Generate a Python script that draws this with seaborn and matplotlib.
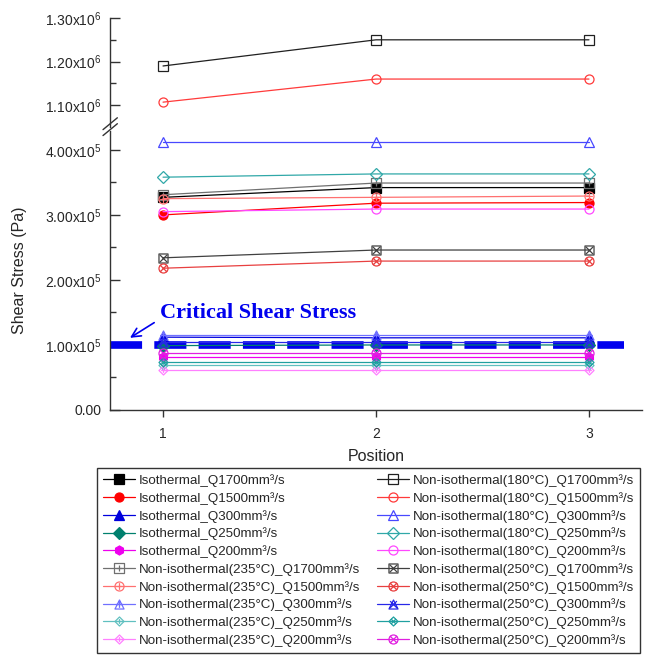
import numpy as np
import pandas as pd
import seaborn as sns
import matplotlib
matplotlib.use('Agg')
import matplotlib.pyplot as plt
from matplotlib.path import Path
from matplotlib.markers import MarkerStyle
from matplotlib.ticker import FixedLocator, FixedFormatter


positions = [1, 2, 3]

# isothermal
iso_q1700 = [3.27e5, 3.42e5, 3.42e5]
iso_q1500 = [3.00e5, 3.18e5, 3.19e5]
iso_q300 = [1.12e5, 1.11e5, 1.11e5]
iso_q250 = [0.99e5, 1.00e5, 1.00e5]
iso_q200 = [0.82e5, 0.82e5, 0.82e5]

# non-isothermal 180 C
n180_q1700 = [1.19e6, 1.25e6, 1.25e6]
n180_q1500 = [1.107e6, 1.16e6, 1.16e6]
n180_q300 = [4.12e5, 4.12e5, 4.12e5]
n180_q250 = [3.58e5, 3.63e5, 3.63e5]
n180_q200 = [3.05e5, 3.09e5, 3.09e5]

# non-isothermal 235 C
n235_q1700 = [3.31e5, 3.49e5, 3.49e5]
n235_q1500 = [3.25e5, 3.27e5, 3.29e5]
n235_q300 = [1.15e5, 1.15e5, 1.15e5]
n235_q250 = [0.69e5, 0.69e5, 0.69e5]
n235_q200 = [0.62e5, 0.62e5, 0.62e5]

# non-isothermal 250 C
n250_q1700 = [2.34e5, 2.46e5, 2.46e5]
n250_q1500 = [2.18e5, 2.29e5, 2.29e5]
n250_q300 = [1.05e5, 1.05e5, 1.05e5]
n250_q250 = [0.74e5, 0.74e5, 0.74e5]
n250_q200 = [0.88e5, 0.88e5, 0.88e5]

critical_stress = 1.0e5

flow_labels = ['Q1700', 'Q1500', 'Q300', 'Q250', 'Q200']

upper_ticks = [1.10e6, 1.20e6, 1.30e6]
upper_ticklabels = [r'1.10x10$^6$', r'1.20x10$^6$', r'1.30x10$^6$']
lower_ticks = [0, 1e5, 2e5, 3e5, 4e5]
lower_ticklabels = ['0.00', r'1.00x10$^5$', r'2.00x10$^5$', r'3.00x10$^5$', r'4.00x10$^5$']


def overlay(base, cross):
    b = MarkerStyle(base)
    bp = b.get_path().transformed(b.get_transform())
    c = MarkerStyle(cross)
    cp = c.get_path().transformed(c.get_transform().scale(0.75))
    return Path.make_compound_path(bp, cp)


def label(group, q):
    if group == 'iso':
        return 'Isothermal_' + q + 'mm³/s'
    temp = {'n180': '180', 'n235': '235', 'n250': '250'}[group]
    return 'Non-isothermal(' + temp + '°C)_' + q + 'mm³/s'


sns.set_style('ticks')
plt.rcParams['font.family'] = ['Liberation Sans', 'DejaVu Sans']
plt.rcParams['mathtext.fontset'] = 'custom'
plt.rcParams['mathtext.rm'] = 'Liberation Sans'
plt.rcParams['mathtext.it'] = 'Liberation Sans:italic'
plt.rcParams['mathtext.bf'] = 'Liberation Sans:bold'

series = {
    'iso': ([iso_q1700, iso_q1500, iso_q300, iso_q250, iso_q200],
            ['black', '#ff0000', '#0000dd', '#00806e', '#ee00ee'],
            ['s', 'o', '^', 'D', 'h'], True),
    'n235': ([n235_q1700, n235_q1500, n235_q300, n235_q250, n235_q200],
             ['#707070', '#ff7070', '#7070ff', '#60c0c0', '#ff80ff'],
             [overlay('s', '+'), overlay('o', '+'), overlay('^', '+'),
              overlay('D', '+'), overlay('D', '+')], False),
    'n180': ([n180_q1700, n180_q1500, n180_q300, n180_q250, n180_q200],
             ['#202020', '#ff3a3a', '#4848ff', '#30a8a8', '#ff48ff'],
             ['s', 'o', '^', 'D', 'o'], False),
    'n250': ([n250_q1700, n250_q1500, n250_q300, n250_q250, n250_q200],
             ['#404040', '#e84040', '#2828e8', '#20a0a0', '#e020e0'],
             [overlay('s', 'x'), overlay('o', 'x'), overlay('^', 'x'),
              overlay('D', 'x'), overlay('o', 'x')], False),
}

fig = plt.figure(figsize=(6.52, 6.58), dpi=100)
ax_up = fig.add_axes([0.1687, 0.807, 0.816, 0.1656])
ax_lo = fig.add_axes([0.1687, 0.3769, 0.816, 0.424])

for group in ['iso', 'n235', 'n180', 'n250']:
    vals, colors, markers, filled = series[group]
    for v, c, m, q in zip(vals, colors, markers, flow_labels):
        df = pd.DataFrame({'Position': positions, 'Stress': v})
        for ax, lab in [(ax_up, None), (ax_lo, label(group, q))]:
            sns.lineplot(data=df, x='Position', y='Stress', ax=ax, color=c,
                         marker=m, markersize=6.5, linewidth=0.9,
                         markerfacecolor=c if filled else 'none',
                         markeredgecolor=c, markeredgewidth=0.9,
                         label=lab, zorder=3)

for ax in (ax_up, ax_lo):
    if ax.get_legend() is not None:
        ax.get_legend().remove()
    ax.set_xlim(0.751, 3.249)
    ax.spines['top'].set_visible(False)
    ax.spines['right'].set_visible(False)
    for s in ('left', 'bottom'):
        ax.spines[s].set_color('#333333')
        ax.spines[s].set_linewidth(1.0)
    ax.set_facecolor('none')
    ax.set_ylabel('')
    ax.set_xlabel('')

ax_up.set_ylim(1.05e6, 1.30e6)
ax_up.spines['bottom'].set_visible(False)
ax_up.tick_params(axis='x', bottom=False, labelbottom=False)
ax_up.yaxis.set_major_locator(FixedLocator(upper_ticks))
ax_up.yaxis.set_major_formatter(FixedFormatter(upper_ticklabels))
ax_up.yaxis.set_minor_locator(FixedLocator([1.15e6, 1.25e6]))

ax_lo.set_ylim(0, 4.29e5)
ax_lo.yaxis.set_major_locator(FixedLocator(lower_ticks))
ax_lo.yaxis.set_major_formatter(FixedFormatter(lower_ticklabels))
ax_lo.yaxis.set_minor_locator(FixedLocator([0.5e5, 1.5e5, 2.5e5, 3.5e5]))
ax_lo.set_xticks(positions)
ax_lo.set_xlabel('Position', fontsize=11.5, labelpad=6)

for ax in (ax_up, ax_lo):
    ax.tick_params(axis='y', which='major', direction='in', length=7, width=1,
                   color='#333333', labelsize=10, pad=6)
    ax.tick_params(axis='y', which='minor', direction='in', length=4, width=1,
                   color='#333333')
ax_lo.tick_params(axis='x', direction='out', length=5, width=1, color='#333333',
                  labelsize=10, pad=7)

fig.text(0.03, 0.59, 'Shear Stress (Pa)', rotation=90, ha='center', va='center',
         fontsize=11.5)

# axis break marks
for yb in (0.803, 0.812):
    fig.add_artist(plt.Line2D([0.158, 0.180], [yb - 0.009, yb + 0.009],
                              color='#333333', lw=1.0))

# critical shear stress line
ax_lo.axhline(critical_stress, xmin=0, xmax=0.966, color='#0000ee', lw=5.5,
              dashes=(4.2, 1.6), zorder=2.5)
ax_lo.annotate('Critical Shear Stress', xy=(0.845, 1.11e5), xytext=(0.985, 1.49e5),
               ha='left', va='center', fontsize=16, fontweight='bold',
               family=['Liberation Serif'], color='#0000ee',
               arrowprops=dict(arrowstyle='->', color='#0000ee', lw=1.2,
                               relpos=(0.0, 0.2), shrinkA=2, shrinkB=0))

handles, labels = ax_lo.get_legend_handles_labels()
leg = fig.legend(handles, labels, ncol=2, loc='upper left',
                 bbox_to_anchor=(0.149, -0.03, 0.833, 0.3185), mode='expand',
                 fontsize=9.6, labelspacing=0.37, handlelength=2.4,
                 handletextpad=0.3, borderpad=0.45, borderaxespad=0,
                 frameon=True, fancybox=False, framealpha=1,
                 edgecolor='#333333')
leg.get_frame().set_linewidth(1.0)

fig.savefig('out.png', dpi=100)
